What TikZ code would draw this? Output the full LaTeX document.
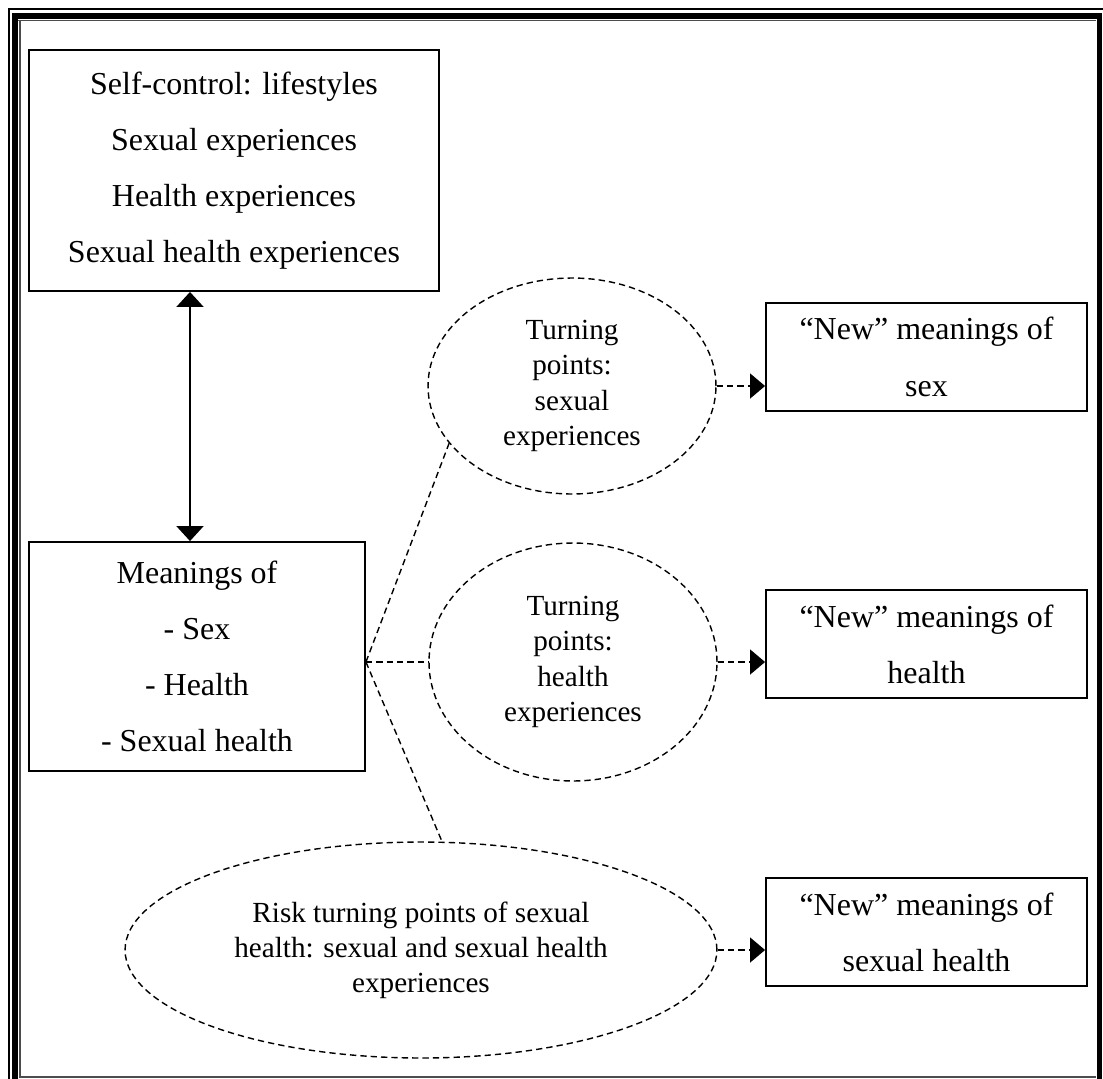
\documentclass[tikz,border=0pt]{standalone}
\usepackage{fontspec}
\setmainfont{Liberation Serif}
\usetikzlibrary{shapes.geometric, positioning, arrows.meta}

\begin{document}
\begin{tikzpicture}[x=0.02cm, y=-0.02cm,
    box/.style={draw, line width=1.1pt, align=center, inner sep=0pt, font=\fontsize{18.2}{32}\selectfont},
    oval/.style={draw, ellipse, dash pattern=on 3.6pt off 2.3pt, line width=0.8pt, align=center, inner sep=0pt, font=\fontsize{16.6}{20}\selectfont},
    link/.style={dash pattern=on 3.6pt off 2.3pt, line width=0.8pt},
    tipend/.style={-{Triangle[length=0.3cm, width=0.5cm]}}]

        \useasboundingbox (0,0) rectangle (1103,1079);

        % 0. Page frame (thin + thick line)
        \draw[line width=0.8pt] (1103,9) -- (9,9) -- (9,1079);
        \draw[line width=3.4pt] (1099.5,1079) -- (1099.5,16) -- (15,16) -- (15,1079);
        \draw[line width=0.6pt, black!70] (18,20.5) -- (1096,20.5);
        \draw[line width=0.6pt, black!70] (20,20) -- (20,1077) -- (1096,1077);

        % 1. Left boxes
        \node[box, minimum width=8.2cm, minimum height=4.82cm] (selfctl) at (234,170.5)
            {Self-control: lifestyles\\Sexual experiences\\Health experiences\\Sexual health experiences};
        \node[box, minimum width=6.72cm, minimum height=4.58cm] (means) at (197,656.5)
            {Meanings of\\- Sex\\- Health\\- Sexual health};

        % 2. Turning points (dashed ovals)
        \node[oval, minimum width=5.76cm, minimum height=4.32cm] (tpsex) at (572,386)
            {Turning\\points:\\sexual\\experiences};
        \node[oval, minimum width=5.76cm, minimum height=4.76cm] (tphealth) at (573,662)
            {Turning\\points:\\health\\experiences};
        \node[oval, minimum width=11.84cm, minimum height=4.32cm] (tprisk) at (421,950)
            {Risk turning points of sexual\\health: sexual and sexual health\\experiences};

        % 3. "New" meanings (right boxes)
        \node[box, minimum width=6.42cm, minimum height=2.16cm] (newsex) at (926.5,357)
            {“New” meanings of\\sex};
        \node[box, minimum width=6.42cm, minimum height=2.16cm] (newhealth) at (926.5,644)
            {“New” meanings of\\health};
        \node[box, minimum width=6.42cm, minimum height=2.16cm] (newsh) at (926.5,932)
            {“New” meanings of\\sexual health};

        % 4. Connectors
        \draw[line width=1.1pt, {Triangle[length=0.3cm, width=0.54cm]}-{Triangle[length=0.3cm, width=0.54cm]}]
            ([xshift=-0.14cm]selfctl.south -| means.north) -- ([xshift=-0.14cm]means.north);

        \coordinate (hub) at (means.east |- tphealth.west);
        \draw[link] (hub) -- (tpsex.205);
        \draw[link] (hub) -- (tphealth.west);
        \draw[link] (hub) -- (tprisk.79);

        \draw[link, tipend] (tpsex.east) -- (tpsex.east -| newsex.west);
        \draw[link, tipend] (tphealth.east) -- (tphealth.east -| newhealth.west);
        \draw[link, tipend] (tprisk.east) -- (tprisk.east -| newsh.west);

    \end{tikzpicture}
\end{document}
